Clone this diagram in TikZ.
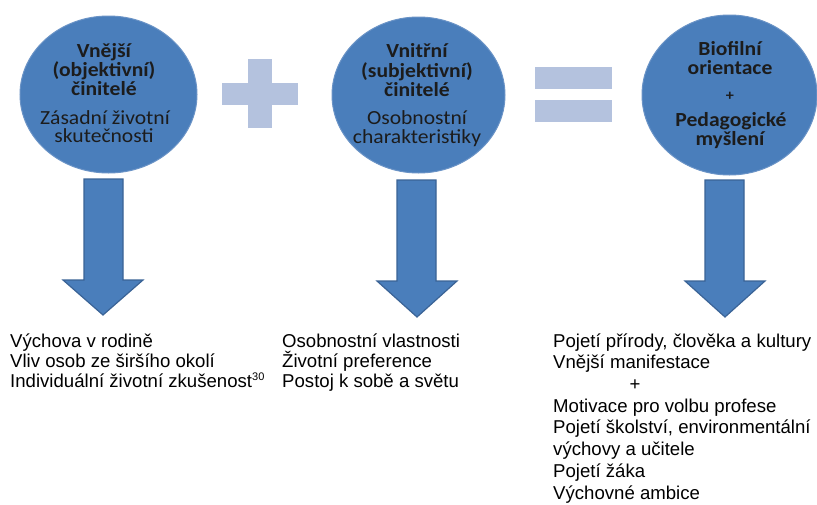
\documentclass[tikz,border=0pt]{standalone}
\usepackage{fontspec}
\setmainfont{Liberation Sans}
\newfontfamily\calibri[FakeStretch=1.08]{Carlito}
\usetikzlibrary{shapes.geometric}
\definecolor{blueA}{HTML}{4A7EBB}
\definecolor{blueRim}{HTML}{6A93C6}
\definecolor{blueE}{HTML}{3A6396}
\definecolor{signC}{HTML}{B4C2DE}
\definecolor{txtC}{HTML}{1C1C1C}
\begin{document}
\begin{tikzpicture}[x=1pt,y=-1pt,
  blob/.style={ellipse, fill=blueA, draw=blueRim, line width=1pt, inner sep=0},
  ctb/.style={anchor=base, inner sep=0, font=\calibri\bfseries\fontsize{20}{19}\selectfont, text=txtC},
  ctr/.style={anchor=base, inner sep=0, font=\calibri\fontsize{20}{19}\selectfont, text=txtC},
  btxt/.style={anchor=base west, inner sep=0, font=\fontsize{18.6}{20}\selectfont, text=black},
  blockarrow/.style={fill=blueA, draw=blueE, line width=1.2pt, line join=miter},
  sign/.style={fill=signC}]
\useasboundingbox[fill=white] (0,0) rectangle (817,504);

% ellipses
\node[blob, minimum width=177pt, minimum height=157pt] (e1) at (108.5,94.5) {};
\node[blob, minimum width=173pt, minimum height=156pt] (e2) at (418.5,95) {};
\node[blob, minimum width=175pt, minimum height=160pt] (e3) at (729.5,95) {};

% circle texts
\node[ctb] (a1) at (104,57) {Vnější};
\node[ctb] (a2) at (104,76) {(objektivní)};
\node[ctb] (a3) at (104,95) {činitelé};
\node[ctr] (a4) at (105,124) {Zásadní životní};
\node[ctr] (a5) at (104,142.5) {skutečnosti};

\node[ctb] (b1) at (417,57) {Vnitřní};
\node[ctb] (b2) at (417,77) {(subjektivní)};
\node[ctb] (b3) at (417,96) {činitelé};
\node[ctr] (b4) at (417,124.5) {Osobnostní};
\node[ctr] (b5) at (417,143.5) {charakteristiky};

\node[ctb] (d1) at (730,55) {Biofilní};
\node[ctb] (d2) at (730,74) {orientace};
\node[ctb, font=\calibri\bfseries\fontsize{15}{15}\selectfont] (d3) at (730,100) {+};
\node[ctb] (d4) at (731,126) {Pedagogické};
\node[ctb] (d5) at (730,145) {myšlení};

% plus and equals signs
\fill[sign] (222,83) rectangle (298,105);
\fill[sign] (248,59) rectangle (272,128);
\fill[sign] (535,67) rectangle (612,89);
\fill[sign] (535,100) rectangle (612,122);

% block arrows
\filldraw[blockarrow] (84,179) -- (123,179) -- (123,280) -- (143,280) -- (103,315) -- (63,280) -- (84,280) -- cycle;
\filldraw[blockarrow] (397,180) -- (436,180) -- (436,281) -- (457,281) -- (417,317) -- (377,281) -- (397,281) -- cycle;
\filldraw[blockarrow] (705,180) -- (744,180) -- (744,281) -- (765,281) -- (725,317) -- (685,281) -- (705,281) -- cycle;

% bottom texts
\node[btxt] (l1) at (10,347) {Výchova v rodině};
\node[btxt] (l2) at (10,367) {Vliv osob ze širšího okolí};
\node[btxt] (l3) at (10,387) {Individuální životní zkušenost\raisebox{6.5pt}{\fontsize{11}{11}\selectfont 30}};

\node[btxt] (m1) at (282,347) {Osobnostní vlastnosti};
\node[btxt] (m2) at (282,367) {Životní preference};
\node[btxt] (m3) at (282,387) {Postoj k sobě a světu};

\node[btxt] (r1) at (553,347) {Pojetí přírody, člověka a kultury};
\node[btxt] (r2) at (553,368.7) {Vnější manifestace};
\node[btxt, anchor=base] (r3) at (635,390.4) {+};
\node[btxt] (r4) at (553,412.1) {Motivace pro volbu profese};
\node[btxt] (r5) at (553,433.9) {Pojetí školství, environmentální};
\node[btxt] (r6) at (553,455.6) {výchovy a učitele};
\node[btxt] (r7) at (553,477.3) {Pojetí žáka};
\node[btxt] (r8) at (553,499) {Výchovné ambice};
\end{tikzpicture}
\end{document}
